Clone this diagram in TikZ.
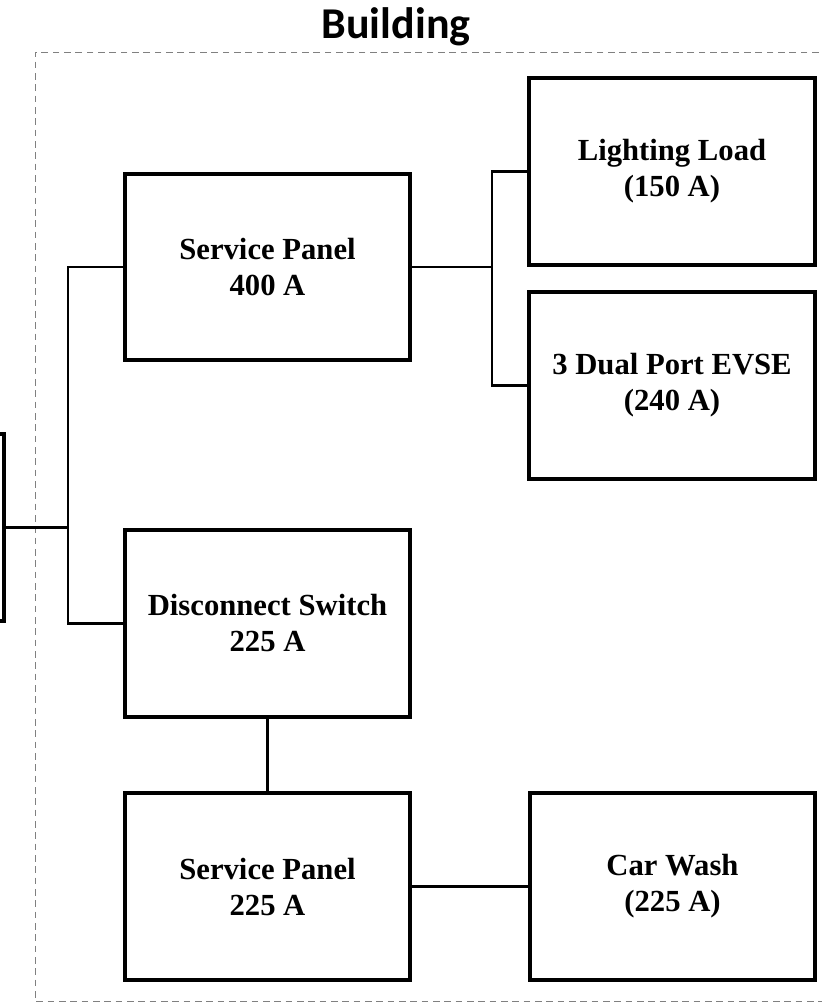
\documentclass[tikz,border=0pt]{standalone}
\usepackage{fontspec}
\setmainfont{Liberation Serif}
\newfontfamily\titlefont{Carlito}
\definecolor{frameGray}{RGB}{128,128,128}
\tikzset{unit/.style={draw=black,line width=3.2pt,minimum width=214pt,minimum height=140pt,
   align=center,inner sep=0pt,font=\fontsize{23}{27}\selectfont\bfseries},
 wire/.style={draw=black,line width=1.6pt},
 boundary/.style={draw=frameGray,line width=.75pt,dash pattern=on 5pt off 3.5pt},
 every picture/.style={line join=miter}}
\begin{document}
\begin{tikzpicture}[x=0.75pt,y=-0.75pt]
\useasboundingbox (0,0) rectangle (821,1003);
\draw[boundary] (830,52) -- (35,52) -- (35,1001) -- (830,1001);
\node[anchor=base,font=\titlefont\fontsize{33}{37}\selectfont\bfseries] (title) at (396,38) {Building};
\node[unit] (utility) at (-138.5,527.5) {};
\node[unit] (sp400) at (267.5,267) {Service Panel\\400 A};
\node[unit] (light) at (672,171.5) {Lighting Load\\(150 A)};
\node[unit] (evse) at (672,385.5) {3 Dual Port EVSE\\(240 A)};
\node[unit] (disc) at (267.5,623.5) {Disconnect Switch\\225 A};
\node[unit] (sp225) at (267.5,886.5) {Service Panel\\225 A};
\node[unit] (wash) at (672.5,886.5) {Car Wash\\(225 A)};
\coordinate (bus) at (68,527.5);
\coordinate (split) at (492,267);
\draw[wire] (utility.east) -- (bus);
\draw[wire] (sp400.west) -| (bus) |- (disc.west);
\draw[wire] (sp400.east) -- (split);
\draw[wire] (light.west) -| (split) |- (evse.west);
\draw[wire] (disc.south) -- (sp225.north);
\draw[wire] (sp225.east) -- (wash.west);
\end{tikzpicture}
\end{document}
